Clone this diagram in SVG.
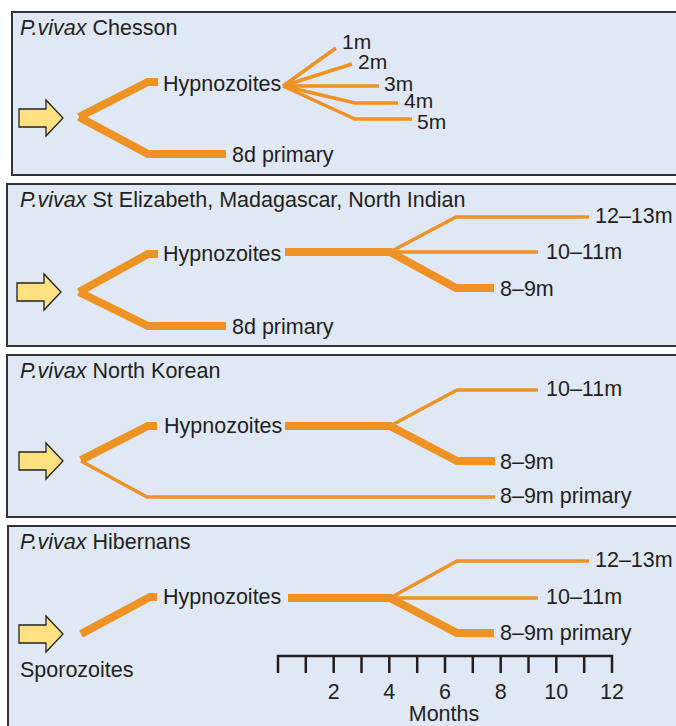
<svg xmlns="http://www.w3.org/2000/svg" width="676" height="726" viewBox="0 0 676 726">
<defs>
<style>
.panel{fill:#e1e8f5;stroke:#333;stroke-width:2}
.t{font-family:"Liberation Sans",Arial,sans-serif;font-size:21.5px;fill:#231f20}
.s{font-size:21px}
.i{font-style:italic}
.thick{fill:none;stroke:#ee9223;stroke-width:8;stroke-linejoin:miter;stroke-linecap:butt}
.thin{fill:none;stroke:#ee9223;stroke-width:3.5;stroke-linejoin:miter;stroke-linecap:butt}
.arrow{fill:#fde07f;stroke:#222;stroke-width:1.3;stroke-linejoin:miter}
.axis{fill:none;stroke:#231f20;stroke-width:2.5}
</style>
<path id="arr" class="arrow" d="M0,-9 H27 V-18 L44,0 L27,18 V9 H0 Z"/>
</defs>
<rect width="676" height="726" fill="#ffffff"/>

<g id="panel1">
<rect class="panel" x="12" y="12" width="700" height="163"/>
<text class="t" x="20" y="35"><tspan class="i">P.vivax</tspan> Chesson</text>
<use href="#arr" x="19" y="118"/>
</g>
<g id="panel2">
<rect class="panel" x="7" y="184" width="705" height="162"/>
<text class="t" x="20" y="207"><tspan class="i">P.vivax</tspan> St Elizabeth, Madagascar, North Indian</text>
<use href="#arr" x="17" y="292"/>
</g>
<g id="panel3">
<rect class="panel" x="7" y="355" width="705" height="162"/>
<text class="t" x="20" y="378"><tspan class="i">P.vivax</tspan> North Korean</text>
<use href="#arr" x="19" y="461"/>
</g>
<g id="panel4">
<rect class="panel" x="8" y="526" width="705" height="220"/>
<text class="t" x="20" y="549"><tspan class="i">P.vivax</tspan> Hibernans</text>
<use href="#arr" x="19" y="634"/>
<text class="t" x="20" y="677">Sporozoites</text>
</g>

<g id="connectors">
<!-- panel 1 -->
<path class="thick" d="M79,117 L148,82 H158"/>
<path class="thick" d="M79,117 L148,154 H226"/>
<path class="thin" d="M283,86 L336,48"/>
<path class="thin" d="M283,86 L352,64"/>
<path class="thin" d="M283,86 H379"/>
<path class="thin" d="M283,86 L355,103 H398"/>
<path class="thin" d="M283,86 L355,119 H412"/>
<!-- panel 2 -->
<path class="thick" d="M79,292 L148,254 H158"/>
<path class="thick" d="M79,292 L148,326 H226"/>
<path class="thick" d="M285,252 H392"/>
<path class="thin" d="M390,252 L456,217 H589"/>
<path class="thin" d="M390,252 H538"/>
<path class="thick" d="M390,252 L456,288 H494"/>
<!-- panel 3 -->
<path class="thick" d="M81,460 L148,426 H157"/>
<path class="thin" d="M81,461 L147,497 H495"/>
<path class="thick" d="M285,426 H392"/>
<path class="thin" d="M390,426 L457,390 H538"/>
<path class="thick" d="M390,426 L457,461 H495"/>
<!-- panel 4 -->
<path class="thick" d="M81,634 L150,597 H157"/>
<path class="thick" d="M288,598 H392"/>
<path class="thin" d="M390,598 L457,561 H589"/>
<path class="thin" d="M390,598 H538"/>
<path class="thick" d="M390,598 L457,633 H494"/>
</g>

<g id="labels">
<text class="t" x="163" y="91">Hypnozoites</text>
<text class="t" x="232" y="162">8d primary</text>
<text class="t s" x="342" y="49">1m</text>
<text class="t s" x="358" y="69">2m</text>
<text class="t s" x="384" y="91">3m</text>
<text class="t s" x="404" y="108">4m</text>
<text class="t s" x="417" y="129">5m</text>

<text class="t" x="163" y="261">Hypnozoites</text>
<text class="t" x="232" y="334">8d primary</text>
<text class="t" x="595" y="223">12–13m</text>
<text class="t" x="546" y="259">10–11m</text>
<text class="t" x="500" y="296">8–9m</text>

<text class="t" x="164" y="433">Hypnozoites</text>
<text class="t" x="546" y="396">10–11m</text>
<text class="t" x="500" y="469">8–9m</text>
<text class="t" x="500" y="503">8–9m primary</text>

<text class="t" x="163" y="604">Hypnozoites</text>
<text class="t" x="595" y="567">12–13m</text>
<text class="t" x="546" y="604">10–11m</text>
<text class="t" x="500" y="640">8–9m primary</text>
</g>

<g id="axis">
<path class="axis" d="M278,673 V656 H612 V673 M305.8,656 V673 M333.7,656 V673 M361.5,656 V673 M389.3,656 V673 M417.2,656 V673 M445,656 V673 M472.8,656 V673 M500.7,656 V673 M528.5,656 V673 M556.3,656 V673 M584.2,656 V673"/>
<g class="t" text-anchor="middle">
<text x="333.7" y="699">2</text>
<text x="389.3" y="699">4</text>
<text x="445" y="699">6</text>
<text x="500.7" y="699">8</text>
<text x="556.3" y="699">10</text>
<text x="612" y="699">12</text>
<text x="444" y="721">Months</text>
</g>
</g>
</svg>
